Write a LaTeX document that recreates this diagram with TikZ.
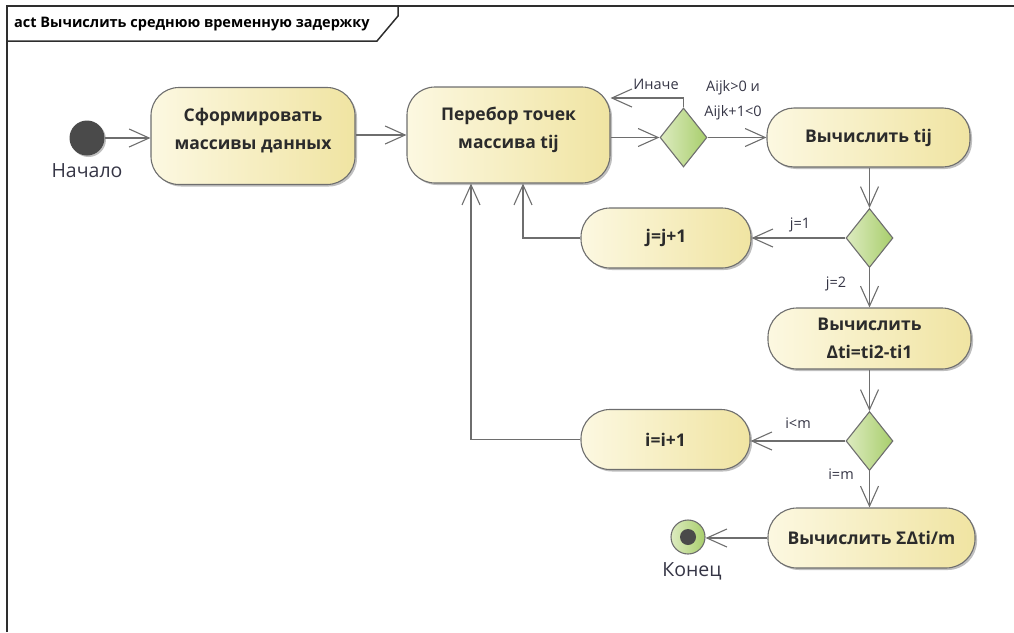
\documentclass[tikz,border=0pt]{standalone}
\usepackage{fontspec}
\setmainfont{Open Sans}
\usetikzlibrary{arrows.meta,shapes.geometric,shadows}
\definecolor{linec}{HTML}{6E6E6E}
\definecolor{framec}{HTML}{2E2E2E}
\definecolor{actl}{HTML}{FCF8E1}
\definecolor{actr}{HTML}{F0E4A2}
\definecolor{decl}{HTML}{DDEBC0}
\definecolor{decr}{HTML}{A8CE6C}
\definecolor{startc}{HTML}{4A4A4A}
\definecolor{labc}{HTML}{353545}
\definecolor{txtc}{HTML}{2B2B2B}
\tikzset{
  act/.style={draw=linec, line width=1.1pt, left color=actl, right color=actr,
    align=center, font=\bfseries\fontsize{17.5}{28}\selectfont, text=txtc,
    drop shadow={shadow xshift=2pt, shadow yshift=-2pt, opacity=0.25, fill=black}},
  dec/.style={diamond, draw=linec, line width=1.1pt, left color=decl, right color=decr,
    inner sep=0pt, minimum width=47pt, minimum height=59pt, aspect=0.8},
  flow/.style={draw=linec, line width=1.1pt, -{Straight Barb[length=20pt,width=18pt,line width=1.1pt]}},
  lab/.style={font=\fontsize{14.5}{16}\selectfont, text=labc, inner sep=0pt},
  bigl/.style={font=\fontsize{19.5}{22}\selectfont, text=labc, inner sep=0pt},
}
\begin{document}
\begin{tikzpicture}[x=1pt,y=-1pt]
\useasboundingbox (0,0) rectangle (1014,632);
% frame
\draw[framec, line width=2pt] (7,632) -- (7,6) -- (1014,6);
\draw[framec, line width=1.5pt] (7,41) -- (377,41) -- (398,16) -- (398,6);
\node[anchor=west, font=\bfseries\fontsize{14.5}{16}\selectfont, text=black, inner sep=0pt] (title) at (14,24) {act Вычислить среднюю временную задержку};

% start
\node[circle, fill=startc, minimum size=35pt, inner sep=0pt,
  drop shadow={shadow xshift=1.5pt, shadow yshift=-1.5pt, opacity=0.25, fill=black}] (start) at (87,138) {};
\node[bigl] (startl) at (87,171) {Начало};

% activities
\node[act, minimum width=204pt, minimum height=97pt, rounded corners=28pt, text depth=14pt] (n1) at (253,136) {Сформировать\\массивы данных};
\node[act, minimum width=203pt, minimum height=96pt, rounded corners=28pt, text depth=14pt] (n2) at (508.5,135) {Перебор точек\\массива tij};
\node[act, minimum width=203pt, minimum height=59pt, rounded corners=27pt] (n3) at (868.5,137.5) {Вычислить tij};
\node[act, minimum width=170pt, minimum height=60pt, rounded corners=29pt] (n4) at (666,238) {j=j+1};
\node[act, minimum width=203pt, minimum height=61pt, rounded corners=29pt] (n5) at (869.5,338.5) {Вычислить\\Δti=ti2-ti1};
\node[act, minimum width=169pt, minimum height=60pt, rounded corners=29pt] (n6) at (665.5,439.5) {i=i+1};
\node[act, minimum width=207pt, minimum height=60pt, rounded corners=29pt] (n7) at (871.5,538) {Вычислить ΣΔti/m};

% decisions
\node[dec] (d1) at (683.5,137.5) {};
\node[dec] (d2) at (869.5,238) {};
\node[dec] (d3) at (869.5,441) {};

% end
\node[circle, draw=linec, line width=1.1pt, left color=decl, right color=decr, minimum size=34pt, inner sep=0pt] (endc) at (688,537) {};
\node[circle, fill=startc, minimum size=16pt, inner sep=0pt] (endd) at (endc.center) {};
\node[bigl] (endl) at (692,571) {Конец};

% connectors
\draw[flow] (start.east) -- (start.east -| n1.west);
\draw[flow] (n1.east |- n2.east) -- (n2.west);
\draw[flow] (n2.east |- d1.west) -- (d1.west);
\draw[flow] (d1.east) -- (d1.east -| n3.west);
\coordinate (c1) at (683.5,98);
\draw[flow] (d1.north) -- (c1) -- (c1 -| n2.east);
\draw[flow] (n3.south -| d2.north) -- (d2.north);
\draw[flow] (d2.west) -- (d2.west -| n4.east);
\draw[flow] (d2.south) -- (d2.south |- n5.north);
\draw[flow] (n4.west) -| ([xshift=14.5pt]n2.south);
\draw[flow] (n5.south -| d3.north) -- (d3.north);
\draw[flow] (d3.west) -- (d3.west -| n6.east);
\draw[flow] (d3.south) -- (d3.south |- n7.north);
\draw[flow] (n6.west) -| ([xshift=-37.5pt]n2.south);
\draw[flow] (n7.west) -- (n7.west -| endc.east);

% labels
\node[lab] (l1) at (656,84) {Иначе};
\node[lab] (l2) at (733,88) {Aijk>0 и};
\node[lab] (l3) at (733,113) {Aijk+1<0};
\node[lab] (l4) at (800,225) {j=1};
\node[lab] (l5) at (836,284) {j=2};
\node[lab] (l6) at (798,423) {i<m};
\node[lab] (l7) at (841,474) {i=m};
\end{tikzpicture}
\end{document}
